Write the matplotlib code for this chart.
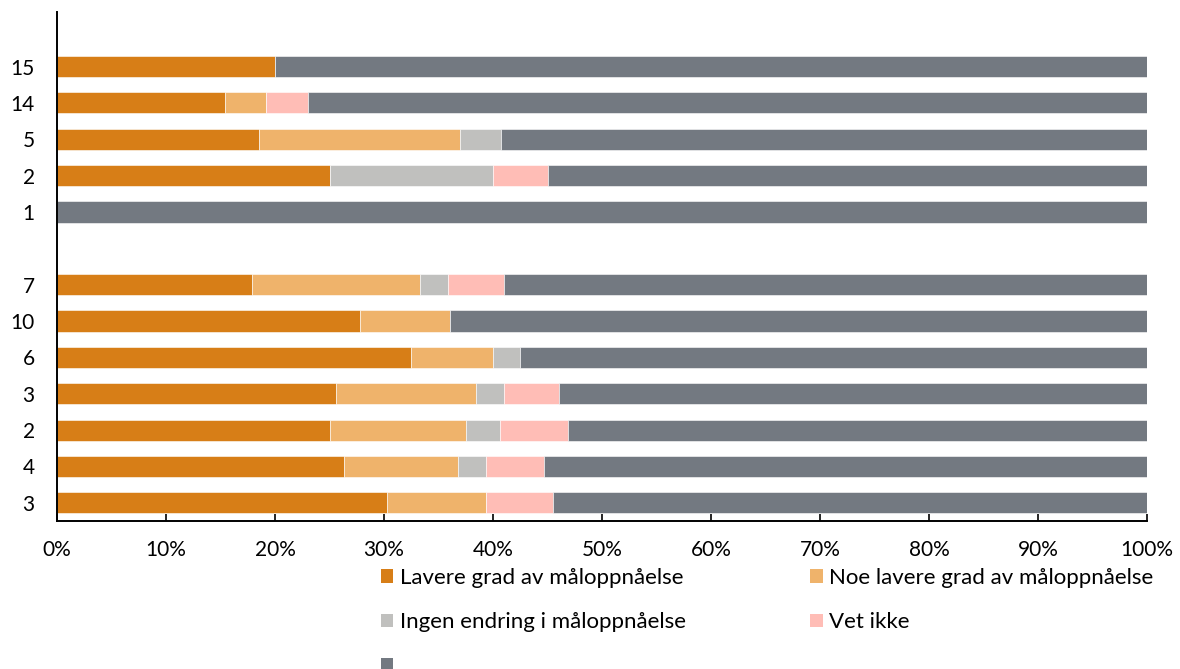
import matplotlib
matplotlib.use("Agg")
import matplotlib.pyplot as plt
from matplotlib.patches import Patch
import numpy as np

plt.rcParams['font.family'] = ['Lato', 'DejaVu Sans']

# Rows listed top to bottom; None marks the empty gap row
labels = ["15", "14", "5", "2", "1", None, "7", "10", "6", "3", "2", "4", "3"]
lavere = [20.0, 15.4, 18.5, 25.0, 0.0, None, 17.9, 27.8, 32.5, 25.6, 25.0, 26.3, 30.3]
noe_lavere = [0.0, 3.8, 18.5, 0.0, 0.0, None, 15.4, 8.3, 7.5, 12.8, 12.5, 10.5, 9.1]
ingen = [0.0, 0.0, 3.7, 15.0, 0.0, None, 2.6, 0.0, 2.5, 2.6, 3.1, 2.6, 0.0]
vet_ikke = [0.0, 3.8, 0.0, 5.0, 0.0, None, 5.1, 0.0, 0.0, 5.1, 6.3, 5.3, 6.1]

series_names = ["Lavere grad av måloppnåelse", "Noe lavere grad av måloppnåelse",
                "Ingen endring i måloppnåelse", "Vet ikke", ""]
colors = ["#D77E17", "#EFB36B", "#C0C0BE", "#FFBDB6", "#737981"]

fig = plt.figure(figsize=(11.8, 6.69), dpi=100)
ax = fig.add_axes([57/1180, 1-521/669, (1147-57)/1180, (521-12)/669])

n = len(labels)
ypos = np.arange(n)[::-1]  # top row highest
idx = [i for i in range(n) if labels[i] is not None]
yv = ypos[idx]
s1 = np.array([lavere[i] for i in idx])
s2 = np.array([noe_lavere[i] for i in idx])
s3 = np.array([ingen[i] for i in idx])
s4 = np.array([vet_ikke[i] for i in idx])
rest = 100 - (s1 + s2 + s3 + s4)
stack = [s1, s2, s3, s4, rest]
left = np.zeros(len(idx))
h = 0.58
for vals, c in zip(stack, colors):
    ax.barh(yv, vals, left=left, height=h, color=c, edgecolor='white', linewidth=0.4)
    left = left + vals

ax.set_xlim(0, 100)
ax.set_ylim(-0.5, n + 0.5)
ax.set_yticks(yv)
ax.set_yticklabels([labels[i] for i in idx])
ax.set_xticks(np.arange(0, 101, 10))
ax.set_xticklabels([f"{v}%" for v in range(0, 101, 10)])
for s in ["top", "right"]:
    ax.spines[s].set_visible(False)
for s in ["left", "bottom"]:
    ax.spines[s].set_linewidth(1.4)
    ax.spines[s].set_color("black")
ax.tick_params(axis='y', length=0, pad=16, labelsize=15)
ax.tick_params(axis='x', direction='in', length=5, width=1.2, pad=14, labelsize=15)

handles = [Patch(facecolor=c) for c in colors]
order = [0, 2, 4, 1, 3]
leg = fig.legend([handles[i] for i in order], [series_names[i] for i in order],
                 ncol=2, loc='upper left', bbox_to_anchor=(381/1180, 1-568/669),
                 frameon=False, fontsize=16, handlelength=0.55, handleheight=0.55,
                 handletextpad=0.3, labelspacing=1.1, columnspacing=5.6,
                 borderaxespad=0, borderpad=0)

fig.savefig("out.png", dpi=100)
